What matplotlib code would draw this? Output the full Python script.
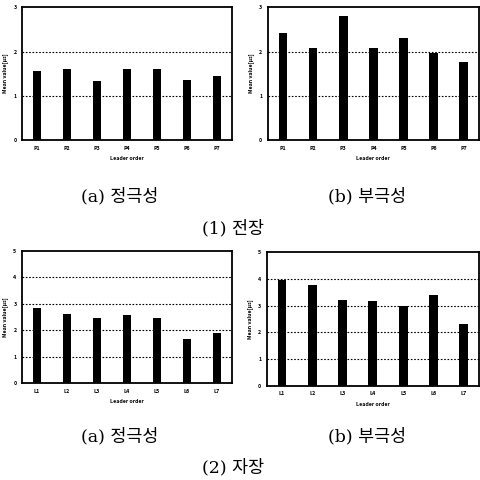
import matplotlib
matplotlib.use("Agg")
import matplotlib.pyplot as plt
import numpy as np

plt.rcParams['font.family'] = ['Noto Sans CJK KR', 'DejaVu Sans']

# mean values per leader order
p_labels = ["P1", "P2", "P3", "P4", "P5", "P6", "P7"]
l_labels = ["L1", "L2", "L3", "L4", "L5", "L6", "L7"]
elec_pos = [1.57, 1.61, 1.33, 1.61, 1.61, 1.35, 1.44]
elec_neg = [2.42, 2.09, 2.81, 2.09, 2.31, 1.97, 1.77]
mag_pos = [2.84, 2.63, 2.48, 2.57, 2.47, 1.65, 1.90]
mag_neg = [3.94, 3.76, 3.19, 3.18, 2.99, 3.39, 2.31]

fig = plt.figure(figsize=(4.8, 4.8), dpi=100)

def panel(rect, labels, values, ymax):
	ax = fig.add_axes(rect)
	x = np.arange(1, len(values) + 1)
	ax.bar(x, values, width=0.29, color="black")
	ax.set_xlim(0.5, 7.5)
	ax.set_ylim(0, ymax)
	ax.set_xticks(x)
	ax.set_xticklabels(labels, fontsize=3.8, fontweight="bold")
	ax.set_yticks(range(0, ymax + 1))
	ax.set_yticklabels([str(v) for v in range(0, ymax + 1)], fontsize=3.8, fontweight="bold")
	ax.tick_params(length=0, pad=4)
	for v in range(1, ymax):
		ax.axhline(v, color="black", linestyle=(0, (1.5, 1.5)), linewidth=0.8, zorder=0)
	for s in ax.spines.values():
		s.set_linewidth(1.3)
	ax.set_xlabel("Leader order", fontsize=3.8, fontweight="bold", labelpad=4)
	ax.set_ylabel("Mean value[μs]", fontsize=3.8, fontweight="bold", labelpad=4)
	return ax

panel([0.046, 0.708, 0.4375, 0.277], p_labels, elec_pos, 3)
panel([0.558, 0.708, 0.4396, 0.277], p_labels, elec_neg, 3)
panel([0.046, 0.202, 0.4375, 0.275], l_labels, mag_pos, 5)
panel([0.556, 0.196, 0.4417, 0.279], l_labels, mag_neg, 5)

# captions: serif latin, korean falls back to the CJK family
cap = dict(fontsize=12.5, fontweight="medium", ha="center", va="center",
           family=["DejaVu Serif", "Noto Sans CJK KR"])
fig.text(120 / 480, 1 - 197 / 480, "(a) 정극성", **cap)
fig.text(367 / 480, 1 - 197 / 480, "(b) 부극성", **cap)
fig.text(233 / 480, 1 - 229 / 480, "(1) 전장", **cap)
fig.text(120 / 480, 1 - 437 / 480, "(a) 정극성", **cap)
fig.text(367 / 480, 1 - 437 / 480, "(b) 부극성", **cap)
fig.text(233 / 480, 1 - 468 / 480, "(2) 자장", **cap)

fig.savefig("out.png", dpi=100)
